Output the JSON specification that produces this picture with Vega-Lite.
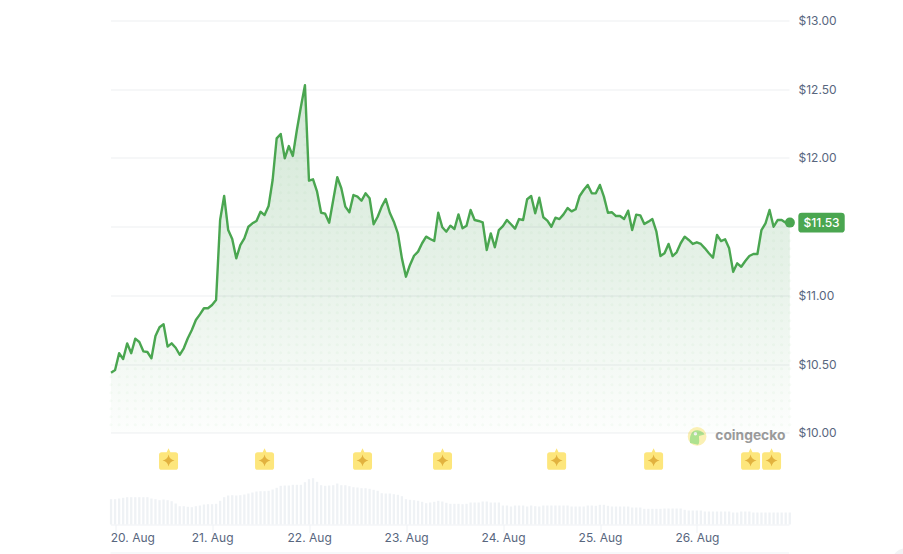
{"$schema":"https://vega.github.io/schema/vega-lite/v6.json","width":678.5,"height":532.5,"autosize":"none","padding":{"left":110.5,"top":20.5,"right":114,"bottom":1},"background":"white","config":{"view":{"stroke":null},"font":"Inter"},
"datasets":{"price":[
{"t":"2025-08-19T22:58Z","p":10.439,"v":25.3},{"t":"2025-08-19T23:58Z","p":10.458,"v":25.3},
{"t":"2025-08-20T00:58Z","p":10.58,"v":26},{"t":"2025-08-20T01:58Z","p":10.538,"v":26.7},{"t":"2025-08-20T02:58Z","p":10.652,"v":27.3},{"t":"2025-08-20T03:58Z","p":10.58,"v":27.3},{"t":"2025-08-20T04:58Z","p":10.686,"v":27.3},{"t":"2025-08-20T05:58Z","p":10.662,"v":27.3},{"t":"2025-08-20T06:58Z","p":10.594,"v":27.3},{"t":"2025-08-20T07:58Z","p":10.589,"v":27.3},{"t":"2025-08-20T08:58Z","p":10.543,"v":26},{"t":"2025-08-20T09:58Z","p":10.705,"v":25.3},{"t":"2025-08-20T10:58Z","p":10.769,"v":24.3},{"t":"2025-08-20T11:58Z","p":10.791,"v":25},{"t":"2025-08-20T12:58Z","p":10.628,"v":24.3},{"t":"2025-08-20T13:58Z","p":10.652,"v":23.3},{"t":"2025-08-20T14:58Z","p":10.62,"v":21},{"t":"2025-08-20T15:58Z","p":10.569,"v":18.3},{"t":"2025-08-20T16:58Z","p":10.616,"v":18.3},{"t":"2025-08-20T17:58Z","p":10.689,"v":17.7},{"t":"2025-08-20T18:58Z","p":10.749,"v":17.3},{"t":"2025-08-20T19:58Z","p":10.822,"v":18.3},{"t":"2025-08-20T20:58Z","p":10.863,"v":19},{"t":"2025-08-20T21:58Z","p":10.907,"v":20},{"t":"2025-08-20T22:58Z","p":10.907,"v":20.3},{"t":"2025-08-20T23:58Z","p":10.931,"v":20.3},
{"t":"2025-08-21T00:58Z","p":10.967,"v":20.7},{"t":"2025-08-21T01:58Z","p":11.549,"v":23.7},{"t":"2025-08-21T02:58Z","p":11.724,"v":27.3},{"t":"2025-08-21T03:58Z","p":11.476,"v":29},{"t":"2025-08-21T04:58Z","p":11.411,"v":29.3},{"t":"2025-08-21T05:58Z","p":11.27,"v":29},{"t":"2025-08-21T06:58Z","p":11.367,"v":29.3},{"t":"2025-08-21T07:58Z","p":11.416,"v":30},{"t":"2025-08-21T08:58Z","p":11.5,"v":31},{"t":"2025-08-21T09:58Z","p":11.525,"v":32},{"t":"2025-08-21T10:58Z","p":11.542,"v":33},{"t":"2025-08-21T11:58Z","p":11.609,"v":33.3},{"t":"2025-08-21T12:58Z","p":11.585,"v":33.3},{"t":"2025-08-21T13:58Z","p":11.651,"v":33.7},{"t":"2025-08-21T14:58Z","p":11.84,"v":35},{"t":"2025-08-21T15:58Z","p":12.143,"v":36.7},{"t":"2025-08-21T16:58Z","p":12.175,"v":38.7},{"t":"2025-08-21T17:58Z","p":11.998,"v":39},{"t":"2025-08-21T18:58Z","p":12.087,"v":39},{"t":"2025-08-21T19:58Z","p":12.015,"v":39.7},{"t":"2025-08-21T20:58Z","p":12.204,"v":39.7},{"t":"2025-08-21T21:58Z","p":12.373,"v":39.7},{"t":"2025-08-21T22:58Z","p":12.529,"v":42.3},{"t":"2025-08-21T23:58Z","p":11.835,"v":45.3},
{"t":"2025-08-22T00:58Z","p":11.845,"v":46.3},{"t":"2025-08-22T01:58Z","p":11.755,"v":42.7},{"t":"2025-08-22T02:58Z","p":11.602,"v":39.3},{"t":"2025-08-22T03:58Z","p":11.595,"v":38.7},{"t":"2025-08-22T04:58Z","p":11.529,"v":39},{"t":"2025-08-22T05:58Z","p":11.695,"v":39.3},{"t":"2025-08-22T06:58Z","p":11.86,"v":41},{"t":"2025-08-22T07:58Z","p":11.78,"v":39.3},{"t":"2025-08-22T08:58Z","p":11.646,"v":39.3},{"t":"2025-08-22T09:58Z","p":11.605,"v":38.3},{"t":"2025-08-22T10:58Z","p":11.731,"v":37.3},{"t":"2025-08-22T11:58Z","p":11.719,"v":37},{"t":"2025-08-22T12:58Z","p":11.689,"v":36.3},{"t":"2025-08-22T13:58Z","p":11.743,"v":36.3},{"t":"2025-08-22T14:58Z","p":11.707,"v":35.7},{"t":"2025-08-22T15:58Z","p":11.518,"v":34.7},{"t":"2025-08-22T16:58Z","p":11.573,"v":33.7},{"t":"2025-08-22T17:58Z","p":11.646,"v":31.3},{"t":"2025-08-22T18:58Z","p":11.702,"v":31},{"t":"2025-08-22T19:58Z","p":11.602,"v":31},{"t":"2025-08-22T20:58Z","p":11.537,"v":30.3},{"t":"2025-08-22T21:58Z","p":11.452,"v":29.7},{"t":"2025-08-22T22:58Z","p":11.27,"v":28.3},{"t":"2025-08-22T23:58Z","p":11.137,"v":25.3},
{"t":"2025-08-23T00:58Z","p":11.222,"v":24.7},{"t":"2025-08-23T01:58Z","p":11.289,"v":24.3},{"t":"2025-08-23T02:58Z","p":11.319,"v":23.7},{"t":"2025-08-23T03:58Z","p":11.38,"v":22.7},{"t":"2025-08-23T04:58Z","p":11.428,"v":21.3},{"t":"2025-08-23T05:58Z","p":11.411,"v":22},{"t":"2025-08-23T06:58Z","p":11.396,"v":22.7},{"t":"2025-08-23T07:58Z","p":11.602,"v":23.7},{"t":"2025-08-23T08:58Z","p":11.496,"v":23},{"t":"2025-08-23T09:58Z","p":11.464,"v":21.7},{"t":"2025-08-23T10:58Z","p":11.508,"v":20.7},{"t":"2025-08-23T11:58Z","p":11.484,"v":20.7},{"t":"2025-08-23T12:58Z","p":11.59,"v":20.7},{"t":"2025-08-23T13:58Z","p":11.489,"v":20.3},{"t":"2025-08-23T14:58Z","p":11.508,"v":20.7},{"t":"2025-08-23T15:58Z","p":11.622,"v":22},{"t":"2025-08-23T16:58Z","p":11.549,"v":22},{"t":"2025-08-23T17:58Z","p":11.542,"v":22},{"t":"2025-08-23T18:58Z","p":11.532,"v":23},{"t":"2025-08-23T19:58Z","p":11.331,"v":23},{"t":"2025-08-23T20:58Z","p":11.452,"v":22},{"t":"2025-08-23T21:58Z","p":11.351,"v":22},{"t":"2025-08-23T22:58Z","p":11.476,"v":22},{"t":"2025-08-23T23:58Z","p":11.505,"v":19},
{"t":"2025-08-24T00:58Z","p":11.549,"v":19},{"t":"2025-08-24T01:58Z","p":11.518,"v":18},{"t":"2025-08-24T02:58Z","p":11.486,"v":19},{"t":"2025-08-24T03:58Z","p":11.556,"v":19},{"t":"2025-08-24T04:58Z","p":11.549,"v":19},{"t":"2025-08-24T05:58Z","p":11.7,"v":18},{"t":"2025-08-24T06:58Z","p":11.724,"v":19},{"t":"2025-08-24T07:58Z","p":11.598,"v":18.3},{"t":"2025-08-24T08:58Z","p":11.711,"v":18},{"t":"2025-08-24T09:58Z","p":11.569,"v":19},{"t":"2025-08-24T10:58Z","p":11.544,"v":19},{"t":"2025-08-24T11:58Z","p":11.5,"v":19},{"t":"2025-08-24T12:58Z","p":11.566,"v":19},{"t":"2025-08-24T13:58Z","p":11.556,"v":19},{"t":"2025-08-24T14:58Z","p":11.59,"v":19},{"t":"2025-08-24T15:58Z","p":11.636,"v":19},{"t":"2025-08-24T16:58Z","p":11.612,"v":18},{"t":"2025-08-24T17:58Z","p":11.627,"v":18},{"t":"2025-08-24T18:58Z","p":11.724,"v":18},{"t":"2025-08-24T19:58Z","p":11.767,"v":18},{"t":"2025-08-24T20:58Z","p":11.804,"v":19},{"t":"2025-08-24T21:58Z","p":11.743,"v":19},{"t":"2025-08-24T22:58Z","p":11.743,"v":18.7},{"t":"2025-08-24T23:58Z","p":11.804,"v":19.7},
{"t":"2025-08-25T00:58Z","p":11.719,"v":19.7},{"t":"2025-08-25T01:58Z","p":11.602,"v":18.7},{"t":"2025-08-25T02:58Z","p":11.605,"v":18},{"t":"2025-08-25T03:58Z","p":11.578,"v":18},{"t":"2025-08-25T04:58Z","p":11.578,"v":18},{"t":"2025-08-25T05:58Z","p":11.556,"v":18},{"t":"2025-08-25T06:58Z","p":11.617,"v":18},{"t":"2025-08-25T07:58Z","p":11.476,"v":17},{"t":"2025-08-25T08:58Z","p":11.588,"v":17},{"t":"2025-08-25T09:58Z","p":11.583,"v":17},{"t":"2025-08-25T10:58Z","p":11.52,"v":15.7},{"t":"2025-08-25T11:58Z","p":11.537,"v":15.7},{"t":"2025-08-25T12:58Z","p":11.556,"v":15.7},{"t":"2025-08-25T13:58Z","p":11.464,"v":15.7},{"t":"2025-08-25T14:58Z","p":11.287,"v":15.7},{"t":"2025-08-25T15:58Z","p":11.307,"v":16},{"t":"2025-08-25T16:58Z","p":11.375,"v":16},{"t":"2025-08-25T17:58Z","p":11.287,"v":16},{"t":"2025-08-25T18:58Z","p":11.314,"v":16},{"t":"2025-08-25T19:58Z","p":11.38,"v":16},{"t":"2025-08-25T20:58Z","p":11.428,"v":14.7},{"t":"2025-08-25T21:58Z","p":11.404,"v":14},{"t":"2025-08-25T22:58Z","p":11.375,"v":14},{"t":"2025-08-25T23:58Z","p":11.387,"v":14},
{"t":"2025-08-26T00:58Z","p":11.375,"v":14},{"t":"2025-08-26T01:58Z","p":11.343,"v":13},{"t":"2025-08-26T02:58Z","p":11.307,"v":13},{"t":"2025-08-26T03:58Z","p":11.275,"v":13},{"t":"2025-08-26T04:58Z","p":11.44,"v":13},{"t":"2025-08-26T05:58Z","p":11.396,"v":13},{"t":"2025-08-26T06:58Z","p":11.409,"v":13},{"t":"2025-08-26T07:58Z","p":11.343,"v":13},{"t":"2025-08-26T08:58Z","p":11.173,"v":12},{"t":"2025-08-26T09:58Z","p":11.234,"v":12},{"t":"2025-08-26T10:58Z","p":11.209,"v":13},{"t":"2025-08-26T11:58Z","p":11.251,"v":13},{"t":"2025-08-26T12:58Z","p":11.287,"v":13},{"t":"2025-08-26T13:58Z","p":11.302,"v":12},{"t":"2025-08-26T14:58Z","p":11.302,"v":12},{"t":"2025-08-26T15:58Z","p":11.476,"v":12},{"t":"2025-08-26T16:58Z","p":11.525,"v":12},{"t":"2025-08-26T17:58Z","p":11.622,"v":12},{"t":"2025-08-26T18:58Z","p":11.5,"v":12},{"t":"2025-08-26T19:58Z","p":11.549,"v":12},{"t":"2025-08-26T20:58Z","p":11.549,"v":12},{"t":"2025-08-26T21:58Z","p":11.529,"v":12},{"t":"2025-08-26T22:58Z","p":11.53,"v":12}],
"events":[{"t":"2025-08-20T13:12Z","p":9.8},{"t":"2025-08-21T12:58Z","p":9.8},{"t":"2025-08-22T13:13Z","p":9.8},{"t":"2025-08-23T09:01Z","p":9.8},{"t":"2025-08-24T13:16Z","p":9.8},{"t":"2025-08-25T13:16Z","p":9.8},{"t":"2025-08-26T13:16Z","p":9.8},{"t":"2025-08-26T18:28Z","p":9.8}],
"last":[{"t":"2025-08-26T23:00Z","p":11.53}],
"badge":[{"t":"2025-08-27T06:50Z","p":11.53,"label":"$11.53"}],
"logo":[{"t":"2025-08-26T00:02Z","p":9.975}],
"eye":[{"t":"2025-08-25T23:37Z","p":9.995}],
"brand":[{"t":"2025-08-26T04:32Z","p":9.975,"label":"coingecko"}],
"bottom":[{"t":"2025-08-19T22:50Z","t2":"2025-08-26T22:47Z","p":9.1273}],
"corner":[{"t":"2025-08-28T03:28Z","p":9.07}]},
"resolve":{"scale":{"y":"independent"}},
"encoding":{"x":{"field":"t","type":"temporal","title":null,"scale":{"type":"utc","nice":false,"padding":0,"domain":["2025-08-19T22:50:00Z","2025-08-26T22:47:00Z"]},"axis":{"format":"%-d. %b","tickCount":{"interval":"day","step":1},"offset":-28.5,"grid":false,"domainColor":"#eff2f5","domainWidth":1.2,"tickColor":"#eff2f5","tickSize":8,"labelColor":"#58667e","labelFont":"Inter","labelFontSize":12,"labelPadding":0,"labelFlush":10,"labelFlushOffset":5,"labelOverlap":false}}},
"layer":[
{"data":{"name":"price"},"mark":{"type":"bar","size":2.3,"color":"#eff2f5"},"encoding":{"y":{"field":"v","type":"quantitative","axis":null,"scale":{"domain":[-28.5,504],"nice":false}}}},
{"layer":[
{"data":{"name":"price"},"transform":[{"calculate":"10","as":"base"}],"mark":{"type":"area","interpolate":"linear","color":{"gradient":"linear","x1":0,"y1":0,"x2":0,"y2":1,"stops":[{"offset":0,"color":"#d3e8d6"},{"offset":0.5,"color":"#e5f1e7"},{"offset":1,"color":"#fdfefd"}]}},"encoding":{"y":{"field":"p","type":"quantitative","title":null,"scale":{"domain":[9.12727,13],"nice":false},"axis":{"orient":"right","values":[10,10.5,11,11.5,12,12.5,13],"format":"$.2f","labelExpr":"datum.value==11.5?'':datum.label","ticks":false,"domain":false,"grid":true,"gridColor":"#58667e","gridOpacity":0.1,"labelColor":"#58667e","labelFont":"Inter","labelFontSize":12,"labelPadding":9,"zindex":1}},"y2":{"field":"base"}}},
{"data":{"name":"price"},"transform":[{"filter":"utchours(datum.t)%2==0"},{"calculate":"10.06","as":"base"}],"mark":{"type":"rule","color":"#4aa84f","opacity":0.04,"strokeWidth":3.2,"strokeCap":"round","strokeDash":[0.01,7.99]},"encoding":{"y":{"field":"base","type":"quantitative"},"y2":{"field":"p"}}},
{"data":{"name":"price"},"mark":{"type":"line","color":"#4aa650","strokeWidth":2.4,"strokeJoin":"round"},"encoding":{"y":{"field":"p","type":"quantitative"}}},
{"data":{"name":"bottom"},"mark":{"type":"rule","color":"#eff2f5","strokeWidth":1},"encoding":{"x2":{"field":"t2"},"y":{"field":"p","type":"quantitative"}}},
{"data":{"name":"last"},"mark":{"type":"point","filled":true,"opacity":1,"shape":"circle","size":100,"color":"#4aa650"},"encoding":{"y":{"field":"p","type":"quantitative"}}},
{"data":{"name":"badge"},"mark":{"type":"point","filled":true,"opacity":1,"size":2153,"color":"#4aa650","shape":"M-0.85,-0.431 L0.85,-0.431 Q1,-0.431 1,-0.281 L1,0.281 Q1,0.431 0.85,0.431 L-0.85,0.431 Q-1,0.431 -1,0.281 L-1,-0.281 Q-1,-0.431 -0.85,-0.431 Z"},"encoding":{"y":{"field":"p","type":"quantitative"}}},
{"data":{"name":"badge"},"mark":{"type":"text","color":"white","font":"Inter","fontSize":12,"fontWeight":500,"align":"center","baseline":"middle"},"encoding":{"y":{"field":"p","type":"quantitative"},"text":{"field":"label"}}},
{"data":{"name":"events"},"mark":{"type":"point","filled":true,"opacity":1,"size":361,"color":"#fde67c","shape":"M-0.72,-0.88 L-0.2,-0.88 L0,-1.3 L0.2,-0.88 L0.72,-0.88 Q1,-0.88 1,-0.6 L1,0.7 Q1,0.98 0.72,0.98 L-0.72,0.98 Q-1,0.98 -1,0.7 L-1,-0.6 Q-1,-0.88 -0.72,-0.88 Z"},"encoding":{"y":{"field":"p","type":"quantitative"}}},
{"data":{"name":"events"},"mark":{"type":"point","filled":true,"opacity":1,"size":144,"color":"#e2b23f","shape":"M0,-1 Q0.15,-0.15 1,0 Q0.15,0.15 0,1 Q-0.15,0.15 -1,0 Q-0.15,-0.15 0,-1 Z"},"encoding":{"y":{"field":"p","type":"quantitative"}}},
{"data":{"name":"logo"},"mark":{"type":"point","filled":true,"opacity":1,"size":350,"color":"#faf0b4","shape":"circle"},"encoding":{"y":{"field":"p","type":"quantitative"}}},
{"data":{"name":"logo"},"mark":{"type":"point","filled":true,"opacity":1,"size":350,"color":"#aee290","shape":"M-0.75,0.7 C-0.85,0 -0.6,-0.7 0.05,-0.65 C0.4,-0.6 0.7,-0.4 0.8,-0.2 L0.2,-0.05 C0.2,0.3 0.3,0.7 0.1,0.9 Z"},"encoding":{"y":{"field":"p","type":"quantitative"}}},
{"data":{"name":"eye"},"mark":{"type":"point","filled":true,"opacity":1,"size":12,"color":"#f4f4f4","shape":"circle"},"encoding":{"y":{"field":"p","type":"quantitative"}}},
{"data":{"name":"brand"},"mark":{"type":"text","color":"#9b9b9b","font":"Inter","fontSize":13.8,"fontWeight":700,"align":"left","baseline":"middle"},"encoding":{"y":{"field":"p","type":"quantitative"},"text":{"field":"label"}}},
{"data":{"name":"corner"},"mark":{"type":"point","filled":true,"opacity":1,"size":615,"color":"#f2f3f5","shape":"circle"},"encoding":{"y":{"field":"p","type":"quantitative"}}}
]}
]}
